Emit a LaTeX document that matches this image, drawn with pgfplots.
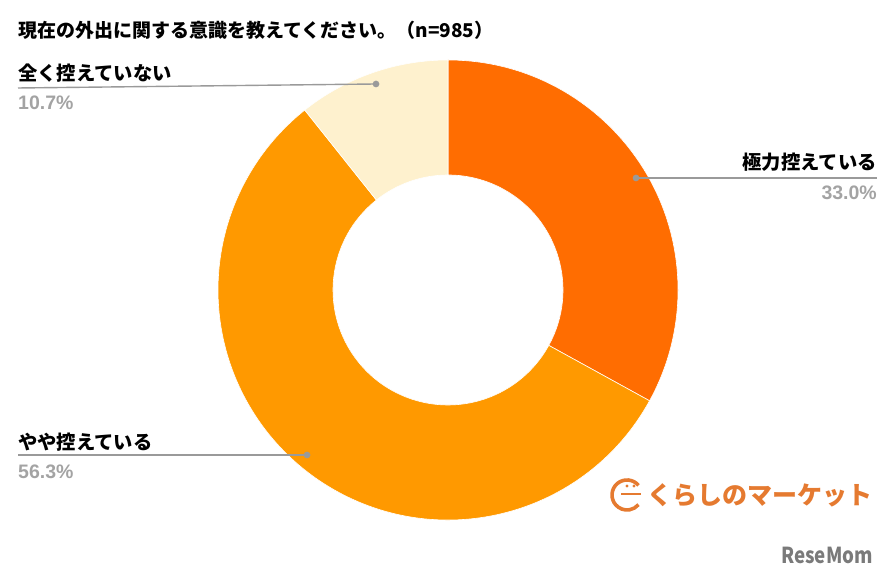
\documentclass[border=0pt]{standalone}
\usepackage{pgfplots}
\usepackage{pgfplotstable}
\pgfplotsset{compat=1.18}
\usetikzlibrary{calc}
\usepackage{fontspec}
\setmainfont{Noto Sans CJK JP}
\newfontfamily\latin{Liberation Sans}
\definecolor{cA}{HTML}{FF6D01}
\definecolor{cB}{HTML}{FF9900}
\definecolor{cC}{HTML}{FEF1CE}
\definecolor{lead}{HTML}{9A9A9A}
\definecolor{pct}{HTML}{A3A3A3}
\definecolor{logo}{HTML}{E57A30}
\definecolor{rm}{HTML}{7A7A7A}
\pgfplotstableread{
label value
kyokuryoku 33.0
yaya 56.3
mattaku 10.7
}\datatable
\begin{document}%
\begin{tikzpicture}%
\pgfplotstablegetelem{0}{value}\of\datatable \let\va\pgfplotsretval
\pgfplotstablegetelem{1}{value}\of\datatable \let\vb\pgfplotsretval
\pgfplotstablegetelem{2}{value}\of\datatable \let\vc\pgfplotsretval
\pgfmathsetmacro\aA{90}
\pgfmathsetmacro\aB{90-3.6*\va}
\pgfmathsetmacro\aC{\aB-3.6*\vb}
\pgfmathsetmacro\aD{\aC-3.6*\vc}
\begin{axis}[
  width=893bp, height=580bp, scale only axis,
  xmin=0, xmax=893, ymin=0, ymax=580,
  hide axis, clip=false,
]
\coordinate (BL) at (axis cs:0,0);
\coordinate (TR) at (axis cs:893,580);
% donut slices
\def\slice#1#2#3{%
  \fill[#3, draw=white, line width=0.6bp]
    ($(axis cs:448,290)+(#1:230bp)$) arc[start angle=#1, end angle=#2, radius=230bp]
    -- ($(axis cs:448,290)+(#2:115bp)$) arc[start angle=#2, end angle=#1, radius=115bp] -- cycle;}
\slice{\aA}{\aB}{cA}
\slice{\aB}{\aC}{cB}
\slice{\aC}{\aD}{cC}
% leader lines
\addplot[lead, line width=1.4bp, mark=*, mark size=2.6bp, mark options={fill=lead, draw=lead}, mark indices={2}] coordinates {(18,492) (376,496)};
\addplot[lead, line width=1.4bp, mark=*, mark size=2.6bp, mark options={fill=lead, draw=lead}, mark indices={1}] coordinates {(636,402) (877,402)};
\addplot[lead, line width=1.4bp, mark=*, mark size=2.6bp, mark options={fill=lead, draw=lead}, mark indices={2}] coordinates {(18,125) (307,125)};
% title
\node[anchor=west, inner sep=0pt, font=\bfseries\fontsize{19bp}{21bp}\selectfont] at (axis cs:18,550) {現在の外出に関する意識を教えてください。（n=985）};
% labels
\node[anchor=west, inner sep=0pt, font=\bfseries\fontsize{19.3bp}{21bp}\selectfont] at (axis cs:18,507) {全く控えていない};
\node[anchor=west, inner sep=0pt, text=pct, font=\latin\bfseries\fontsize{19.5bp}{21bp}\selectfont] at (axis cs:18,477) {10.7\%};
\node[anchor=east, inner sep=0pt, font=\bfseries\fontsize{19.3bp}{21bp}\selectfont] at (axis cs:877,418) {極力控えている};
\node[anchor=east, inner sep=0pt, text=pct, font=\latin\bfseries\fontsize{19.5bp}{21bp}\selectfont] at (axis cs:877,387) {33.0\%};
\node[anchor=west, inner sep=0pt, font=\bfseries\fontsize{19.3bp}{21bp}\selectfont] at (axis cs:18,138) {やや控えている};
\node[anchor=west, inner sep=0pt, text=pct, font=\latin\bfseries\fontsize{19.5bp}{21bp}\selectfont] at (axis cs:18,108) {56.3\%};
% logo
\draw[logo, line width=3.6bp] ($(axis cs:627,85)+(40:15bp)$) arc[start angle=40, end angle=320, radius=15bp];
\draw[logo, line width=2.6bp] (axis cs:621,86) -- (axis cs:641,86);
\fill[logo] (axis cs:627,94) circle[radius=1.6bp];
\fill[logo] (axis cs:634,94) circle[radius=1.6bp];
\node[anchor=west, inner sep=0pt, text=logo, font=\bfseries\fontsize{25bp}{27bp}\selectfont] at (axis cs:647,85) {くらしのマーケット};
\node[anchor=east, inner sep=0pt, text=rm, font=\bfseries\fontsize{22bp}{24bp}\selectfont] at (axis cs:873,25) {\scalebox{0.85}[1]{ReseMom}};
\end{axis}
\pgfresetboundingbox
\path[use as bounding box] (BL) rectangle (TR);
\end{tikzpicture}%
\end{document}
